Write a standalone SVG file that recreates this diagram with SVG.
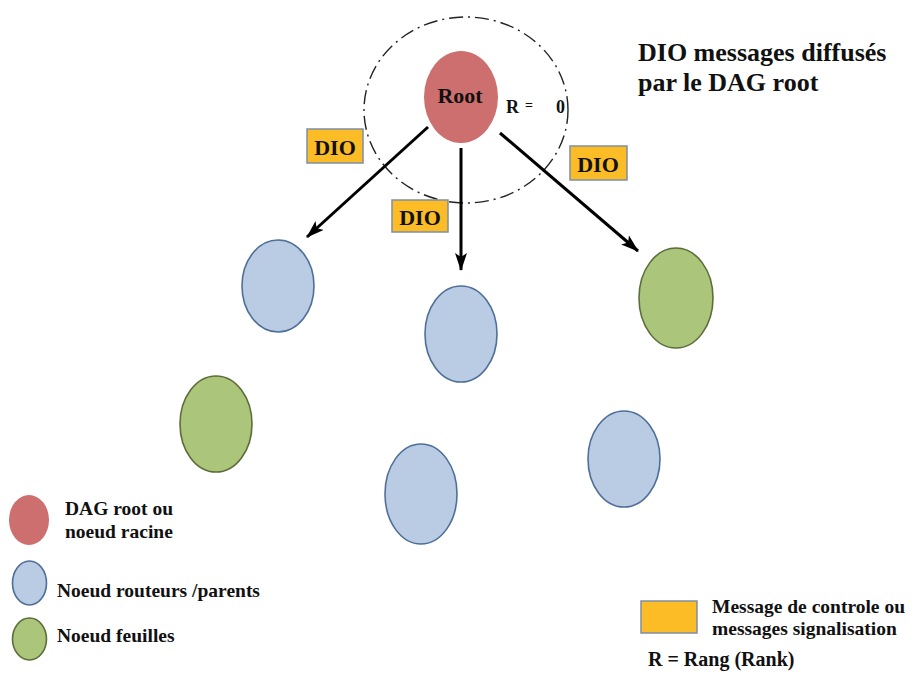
<svg xmlns="http://www.w3.org/2000/svg" width="912" height="673" viewBox="0 0 912 673">
  <defs>
    <marker id="arrow" markerWidth="18" markerHeight="12" refX="17" refY="6" orient="auto" markerUnits="userSpaceOnUse" viewBox="0 0 18 12">
      <path d="M0,0 L18,6 L0,12 L4,6 Z" fill="#000"/>
    </marker>
    <style>
      .t { font-family: "Liberation Serif", "Times New Roman", serif; font-weight: bold; fill: #111; }
      .root { fill: #cd6f6e; }
      .router { fill: #b9cce4; stroke: #4f6f98; stroke-width: 1.6; }
      .leaf { fill: #abc57a; stroke: #5b6e3b; stroke-width: 1.6; }
      .msg { fill: #fcbc25; stroke: #7d8ea6; stroke-width: 1.5; }
      .edge { stroke: #000; stroke-width: 3; fill: none; marker-end: url(#arrow); }
    </style>
  </defs>
  <rect width="912" height="673" fill="#fff"/>

  <!-- broadcast range of the root -->
  <ellipse cx="466" cy="110" rx="102" ry="93" fill="none" stroke="#222" stroke-width="1.4" stroke-dasharray="14 5 2 5"/>

  <!-- connectors -->
  <g id="connectors">
    <line class="edge" x1="428" y1="127" x2="307" y2="237"/>
    <line class="edge" x1="461" y1="148" x2="461" y2="270"/>
    <line class="edge" x1="500" y1="133" x2="638" y2="251"/>
  </g>

  <!-- nodes -->
  <g id="root">
    <ellipse class="root" cx="461" cy="97" rx="37" ry="46"/>
    <text class="t" x="460" y="103" font-size="22" text-anchor="middle">Root</text>
    <text class="t" x="506" y="113" font-size="18">R</text>
    <text class="t" x="525" y="110" font-size="14" fill="#666">=</text>
    <text class="t" x="556" y="113" font-size="18">0</text>
  </g>
  <g id="n1"><ellipse class="router" cx="278" cy="286" rx="36" ry="46"/></g>
  <g id="n2"><ellipse class="router" cx="461" cy="334" rx="36" ry="48"/></g>
  <g id="n3"><ellipse class="leaf" cx="676" cy="298" rx="37" ry="50"/></g>
  <g id="n4"><ellipse class="leaf" cx="216" cy="424" rx="36" ry="48"/></g>
  <g id="n5"><ellipse class="router" cx="421" cy="494" rx="36" ry="50"/></g>
  <g id="n6"><ellipse class="router" cx="624" cy="459" rx="36" ry="48"/></g>

  <!-- DIO message labels -->
  <g id="dio1">
    <rect class="msg" x="307" y="129" width="56" height="34"/>
    <text class="t" x="335" y="155" font-size="22" text-anchor="middle">DIO</text>
  </g>
  <g id="dio2">
    <rect class="msg" x="392" y="200" width="56" height="32"/>
    <text class="t" x="420" y="225" font-size="22" text-anchor="middle">DIO</text>
  </g>
  <g id="dio3">
    <rect class="msg" x="570" y="146" width="57" height="34"/>
    <text class="t" x="598" y="172" font-size="22" text-anchor="middle">DIO</text>
  </g>

  <!-- title -->
  <g id="title">
    <text class="t" x="638" y="61" font-size="26">DIO messages diffusés</text>
    <text class="t" x="638" y="91" font-size="26">par le DAG root</text>
  </g>

  <!-- legend -->
  <g id="legend">
    <ellipse class="root" cx="29" cy="520" rx="20" ry="25"/>
    <text class="t" x="65" y="515" font-size="19.5">DAG root ou</text>
    <text class="t" x="65" y="538" font-size="19.5">noeud racine</text>

    <ellipse class="router" cx="29.5" cy="583" rx="17" ry="22"/>
    <text class="t" x="57" y="597" font-size="19.5">Noeud routeurs /parents</text>

    <ellipse class="leaf" cx="29.5" cy="639" rx="17" ry="21"/>
    <text class="t" x="57" y="642" font-size="19.5">Noeud feuilles</text>

    <rect class="msg" x="641" y="601" width="56" height="32"/>
    <text class="t" x="712" y="613" font-size="19.5">Message de controle ou</text>
    <text class="t" x="712" y="635" font-size="19.5">messages signalisation</text>
    <text class="t" x="648" y="666" font-size="20">R = Rang (Rank)</text>
  </g>
</svg>
